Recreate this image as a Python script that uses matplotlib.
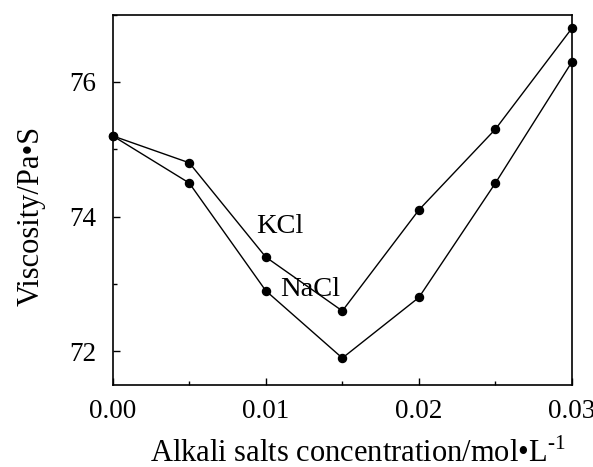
import matplotlib
matplotlib.use("Agg")
import matplotlib.pyplot as plt
from matplotlib.ticker import MultipleLocator

plt.rcParams['font.family'] = ['Liberation Serif', 'DejaVu Serif']
plt.rcParams['mathtext.fontset'] = 'custom'
plt.rcParams['mathtext.rm'] = 'Liberation Serif'

conc = [0.0, 0.005, 0.01, 0.015, 0.02, 0.025, 0.03]
kcl = [75.2, 74.8, 73.4, 72.6, 74.1, 75.3, 76.8]
nacl = [75.2, 74.5, 72.9, 71.9, 72.8, 74.5, 76.3]

fig = plt.figure(figsize=(5.93, 4.67), dpi=100)
ax = fig.add_axes([0.19, 0.1756, 0.7746, 0.793])

ax.plot(conc, kcl, color='black', lw=1.0, marker='o', ms=5.8, clip_on=False)
ax.plot(conc, nacl, color='black', lw=1.0, marker='o', ms=5.8, clip_on=False)

ax.text(0.0109, 73.86, "KCl", fontsize=20.5, ha='center', va='center')
ax.text(0.0129, 72.92, "NaCl", fontsize=20.5, ha='center', va='center')

ax.set_xlim(0, 0.03)
ax.set_ylim(71.5, 77)
ax.xaxis.set_major_locator(MultipleLocator(0.01))
ax.xaxis.set_minor_locator(MultipleLocator(0.005))
ax.yaxis.set_major_locator(MultipleLocator(2))
ax.yaxis.set_minor_locator(MultipleLocator(1))
ax.set_xticks([0, 0.01, 0.02, 0.03], ["0.00", "0.01", "0.02", "0.03"])
ax.tick_params(which='both', direction='in', labelsize=19.5, width=1.0)
ax.tick_params(which='major', length=5)
ax.tick_params(which='minor', length=3)
ax.tick_params(axis='x', pad=10)
ax.tick_params(axis='y', pad=12)
for s in ax.spines.values():
    s.set_linewidth(1.2)

ax.set_xlabel("Alkali salts concentration/mol\u2022L$^{\\text{-1}}$", fontsize=22)
ax.xaxis.set_label_coords(0.533, -0.145)
ax.set_ylabel("Viscosity/Pa\u2022S", fontsize=22)
ax.yaxis.set_label_coords(-0.147, 0.456)

fig.savefig("out.png", dpi=100)
